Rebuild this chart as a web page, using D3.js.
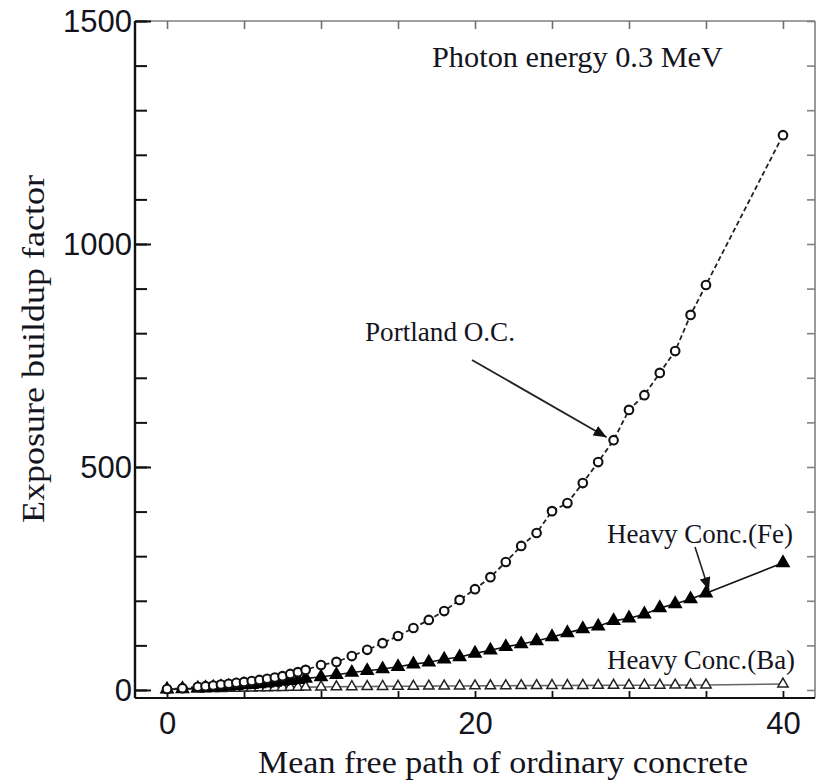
<!DOCTYPE html>
<html>
<head>
<meta charset="utf-8">
<script src="https://cdn.jsdelivr.net/npm/d3@7"></script>
<style>
  html, body { margin: 0; padding: 0; background: #fff; }
  svg { display: block; }
</style>
</head>
<body>
<svg id="chart" width="817" height="784"></svg>
<script>
// Mean free path (ordinary concrete) sample points
const mfp = [0, 1, 2, 2.5, 3, 3.5, 4, 4.5, 5, 5.5, 6, 6.5, 7, 7.5, 8, 8.5, 9,
  10, 11, 12, 13, 14, 15, 16, 17, 18, 19, 20, 21, 22, 23, 24, 25, 26, 27, 28,
  29, 30, 31, 32, 33, 34, 35, 40];

// Exposure buildup factors, photon energy 0.3 MeV
const portlandOC = [2, 4, 7, 8.5, 10, 12, 14, 16, 18, 20, 22.5, 25, 28, 31, 36, 40, 45,
  56, 63, 76, 90, 105, 121, 139, 157, 177, 202, 226, 253, 287, 323, 352, 401, 419, 464, 511,
  560, 628, 661, 711, 760, 841, 908, 1244];

const heavyFe = [1.5, 2.5, 4, 5, 6, 7, 8, 9.5, 11, 12, 13.5, 15, 17, 19, 21, 23, 26,
  29, 34, 39, 43, 47, 52, 58, 62, 69, 74, 82, 89, 97, 103, 110, 119, 128, 137, 143,
  155, 161, 170, 184, 193, 204, 217, 285];

const heavyBa = [1.2, 1.8, 2.5, 2.8, 3.1, 3.4, 3.7, 4, 4.3, 4.6, 4.9, 5.2, 5.5, 5.7, 6, 6.2, 6.4,
  6.8, 7.1, 7.4, 7.7, 8, 8.2, 8.4, 8.6, 8.8, 9, 9.2, 9.4, 9.5, 9.7, 9.8, 10, 10.1, 10.2, 10.4,
  10.5, 10.6, 10.7, 10.8, 10.9, 11, 11.1, 13.5];

const xTickLabels = [0, 20, 40];
const yTickLabels = [0, 500, 1000, 1500];

const svg = d3.select("#chart");
const frameL = 135, frameR = 815, frameT = 21, frameB = 698;

const x = d3.scaleLinear().domain([-2.08, 42.08]).range([frameL, frameR]);
const y = d3.scaleLinear().domain([-18, 1500]).range([frameB, frameT]);

const serif = "'Liberation Serif', 'Times New Roman', serif";
const sans = "'Liberation Sans', Arial, sans-serif";
const ink = "#141420";

// Frame: top and right edges in grey
svg.append("line").attr("x1", frameL).attr("x2", frameR).attr("y1", frameT).attr("y2", frameT)
  .attr("stroke", "#808080").attr("stroke-width", 1.6);
svg.append("line").attr("x1", frameR).attr("x2", frameR).attr("y1", frameT).attr("y2", frameB)
  .attr("stroke", "#808080").attr("stroke-width", 1.6);

// Top ticks (inward)
const gTop = svg.append("g").attr("transform", `translate(0,${frameT})`)
  .call(d3.axisTop(x).tickValues(d3.range(0, 41, 5)).tickSize(-8).tickFormat(""));
gTop.select(".domain").remove();
gTop.selectAll(".tick line").attr("stroke", "#707070").attr("stroke-width", 1.6);

// Right ticks (inward) every 100
const gRight = svg.append("g").attr("transform", `translate(${frameR},0)`)
  .call(d3.axisRight(y).tickValues(d3.range(0, 1501, 100)).tickSize(-8).tickFormat(""));
gRight.select(".domain").remove();
gRight.selectAll(".tick line").attr("stroke", "#808080").attr("stroke-width", 1.6);

// Bottom axis
const gB = svg.append("g").attr("transform", `translate(0,${frameB})`)
  .call(d3.axisBottom(x).tickValues(d3.range(0, 41, 5)).tickSize(-7).tickFormat(""));
gB.select(".domain").remove();
gB.selectAll(".tick line").attr("stroke", "#111").attr("stroke-width", 1.8);
svg.append("line").attr("x1", frameL).attr("x2", frameR).attr("y1", frameB).attr("y2", frameB)
  .attr("stroke", "#111").attr("stroke-width", 2.2);

const gBL = svg.append("g").attr("transform", `translate(0,${frameB})`)
  .call(d3.axisBottom(x).tickValues(xTickLabels).tickSize(0).tickPadding(14).tickFormat(d3.format("d")));
gBL.select(".domain").remove();
gBL.selectAll("text").attr("font-family", sans).attr("font-size", 31).attr("fill", ink);

// Left axis: minor every 100, major every 500
const gLmin = svg.append("g").attr("transform", `translate(${frameL},0)`)
  .call(d3.axisLeft(y).tickValues(d3.range(0, 1501, 100)).tickSize(-12).tickFormat(""));
gLmin.select(".domain").remove();
gLmin.selectAll(".tick line").attr("stroke", "#111").attr("stroke-width", 2);
const gL = svg.append("g").attr("transform", `translate(${frameL},0)`)
  .call(d3.axisLeft(y).tickValues(yTickLabels).tickSize(-16).tickPadding(4).tickFormat(d3.format("d")));
gL.select(".domain").remove();
gL.selectAll(".tick line").attr("stroke", "#111").attr("stroke-width", 2);
gL.selectAll("text").attr("font-family", sans).attr("font-size", 31).attr("fill", ink)
  .attr("x", -3).attr("dy", "0.34em");
svg.append("line").attr("x1", frameL).attr("x2", frameL).attr("y1", frameT).attr("y2", frameB)
  .attr("stroke", "#111").attr("stroke-width", 2.4);

// Axis titles
svg.append("text").attr("x", (258 + 748) / 2).attr("y", 773)
  .attr("text-anchor", "middle").attr("font-family", serif).attr("font-size", 31)
  .attr("fill", ink).attr("textLength", 490).attr("lengthAdjust", "spacingAndGlyphs")
  .text("Mean free path of ordinary concrete");
svg.append("text").attr("transform", "translate(44,349) rotate(-90)")
  .attr("text-anchor", "middle").attr("font-family", serif).attr("font-size", 32)
  .attr("fill", ink).attr("textLength", 348).attr("lengthAdjust", "spacingAndGlyphs")
  .text("Exposure buildup factor");

// Series
const rows = mfp.map((m, i) => ({ m, p: portlandOC[i], fe: heavyFe[i], ba: heavyBa[i] }));
const plot = svg.append("g");

const lineOf = key => d3.line().x(d => x(d.m)).y(d => y(d[key]));

plot.append("path").datum(rows).attr("d", lineOf("ba"))
  .attr("fill", "none").attr("stroke", "#666").attr("stroke-width", 1.6);
plot.append("path").datum(rows).attr("d", lineOf("fe"))
  .attr("fill", "none").attr("stroke", "#111").attr("stroke-width", 1.6);
plot.append("path").datum(rows).attr("d", lineOf("p"))
  .attr("fill", "none").attr("stroke", "#222").attr("stroke-width", 1.8)
  .attr("stroke-dasharray", "5,3");

const tri = d3.symbol().type(d3.symbolTriangle);

plot.selectAll("path.ba").data(rows).join("path").attr("class", "ba")
  .attr("d", tri.size(46)())
  .attr("transform", d => `translate(${x(d.m)},${y(d.ba)})`)
  .attr("fill", "#fff").attr("stroke", "#222").attr("stroke-width", 1.5);

plot.selectAll("path.fe").data(rows).join("path").attr("class", "fe")
  .attr("d", tri.size(95)())
  .attr("transform", d => `translate(${x(d.m)},${y(d.fe)})`)
  .attr("fill", "#000");

plot.selectAll("circle.p").data(rows).join("circle").attr("class", "p")
  .attr("cx", d => x(d.m)).attr("cy", d => y(d.p)).attr("r", 4.3)
  .attr("fill", "#fff").attr("stroke", "#111").attr("stroke-width", 2.1);

// Arrowhead
svg.append("defs").append("marker").attr("id", "arrow")
  .attr("viewBox", "0 0 10 10").attr("refX", 10).attr("refY", 5)
  .attr("markerWidth", 13).attr("markerHeight", 11).attr("markerUnits", "userSpaceOnUse")
  .attr("orient", "auto").attr("preserveAspectRatio", "none")
  .append("path").attr("d", "M0,0 L10,5 L0,10 Z").attr("fill", "#111");

// Annotations
svg.append("text").attr("x", 432).attr("y", 67).attr("font-family", serif).attr("font-size", 29)
  .attr("fill", ink).attr("textLength", 291).attr("lengthAdjust", "spacingAndGlyphs")
  .text("Photon energy 0.3 MeV");

svg.append("text").attr("x", 365).attr("y", 341).attr("font-family", serif).attr("font-size", 27)
  .attr("fill", ink).attr("textLength", 150).attr("lengthAdjust", "spacingAndGlyphs")
  .text("Portland O.C.");
svg.append("line").attr("x1", 472).attr("y1", 360)
  .attr("x2", x(29) - 7).attr("y2", y(560) - 3)
  .attr("stroke", "#222").attr("stroke-width", 1.8).attr("marker-end", "url(#arrow)");

svg.append("text").attr("x", 607).attr("y", 543).attr("font-family", serif).attr("font-size", 27)
  .attr("fill", ink).attr("textLength", 186).attr("lengthAdjust", "spacingAndGlyphs")
  .text("Heavy Conc.(Fe)");
svg.append("line").attr("x1", 695).attr("y1", 547)
  .attr("x2", x(35) + 3).attr("y2", y(217) - 3)
  .attr("stroke", "#222").attr("stroke-width", 1.6).attr("marker-end", "url(#arrow)");

svg.append("text").attr("x", 607).attr("y", 669).attr("font-family", serif).attr("font-size", 27)
  .attr("fill", ink).attr("textLength", 188).attr("lengthAdjust", "spacingAndGlyphs")
  .text("Heavy Conc.(Ba)");
</script>
</body>
</html>
